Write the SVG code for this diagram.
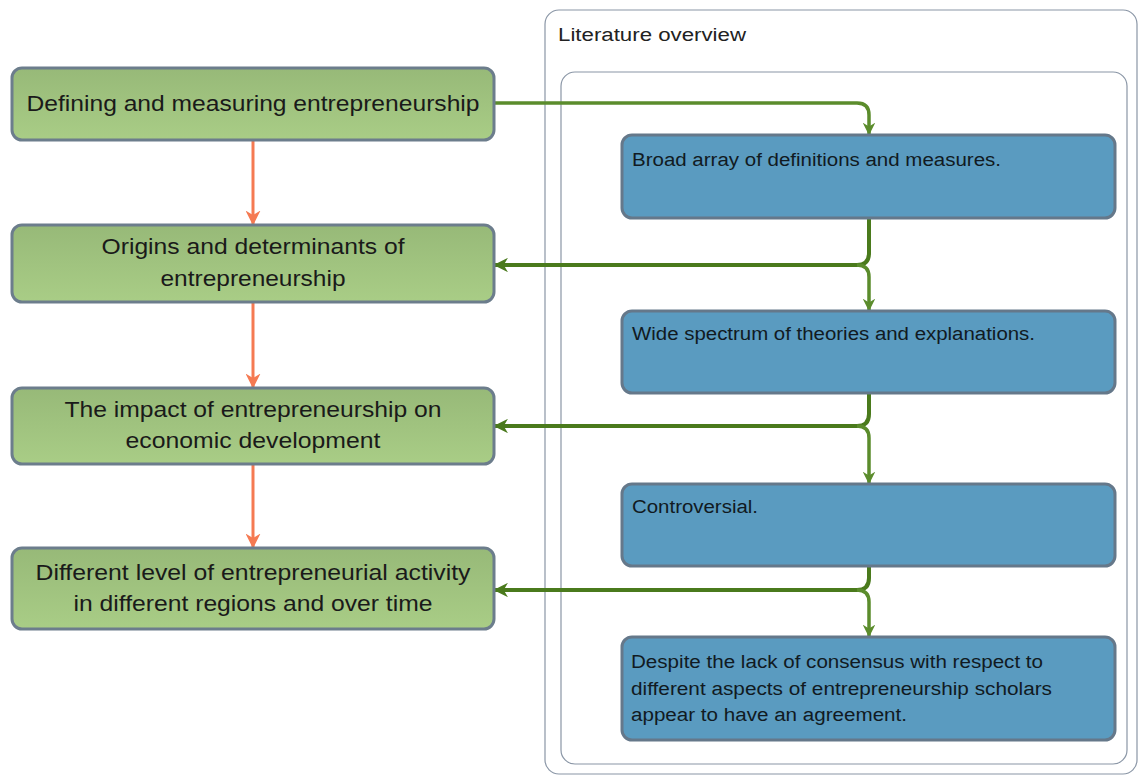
<svg xmlns="http://www.w3.org/2000/svg" width="1139" height="776" viewBox="0 0 1139 776">
  <defs>
    <linearGradient id="gFill" x1="0" y1="0" x2="0" y2="1">
      <stop offset="0" stop-color="#97b978"/>
      <stop offset="1" stop-color="#a9cd86"/>
    </linearGradient>
    <marker id="arrG" viewBox="0 0 10 10" refX="9" refY="5" markerWidth="3.6" markerHeight="3.6" orient="auto" markerUnits="strokeWidth">
      <path d="M0,0 L10,5 L0,10 L3,5 z" fill="#5b8c2c"/>
    </marker>
    <marker id="arrGd" viewBox="0 0 10 10" refX="9" refY="5" markerWidth="3.6" markerHeight="3.6" orient="auto" markerUnits="strokeWidth">
      <path d="M0,0 L10,5 L0,10 L3,5 z" fill="#4a7a1c"/>
    </marker>
    <marker id="arrO" viewBox="0 0 10 10" refX="9" refY="5" markerWidth="5" markerHeight="5" orient="auto" markerUnits="strokeWidth">
      <path d="M0,0 L10,5 L0,10 L3,5 z" fill="#f57a52"/>
    </marker>
  </defs>
  <style>
    .frame { fill: #ffffff; stroke: #8a96a6; stroke-width: 1.2; }
    .green { fill: url(#gFill); stroke: #6c7d8c; stroke-width: 3; }
    .blue { fill: #5a9bc0; stroke: #65788a; stroke-width: 3; }
    .gt { font-family: "Liberation Sans", Arial, sans-serif; font-size: 22px; fill: #1a1a1a; text-anchor: middle; }
    .bt { font-family: "Liberation Sans", Arial, sans-serif; font-size: 18px; fill: #111a22; }
    .title { font-family: "Liberation Sans", Arial, sans-serif; font-size: 18px; fill: #222222; }
    .cg { fill: none; stroke: #5b8c2c; stroke-width: 3.5; }
    .cgd { fill: none; stroke: #4a7a1c; stroke-width: 4; }
    .co { fill: none; stroke: #f57a52; stroke-width: 3; }
  </style>

  <rect width="1139" height="776" fill="#ffffff"/>

  <!-- container frames -->
  <g id="literature-overview">
    <rect class="frame" x="545" y="10" width="592" height="764" rx="14"/>
    <text class="title" x="558" y="41" textLength="188" lengthAdjust="spacingAndGlyphs">Literature overview</text>
    <rect class="frame" x="561" y="72" width="566" height="692" rx="14"/>
  </g>

  <!-- connectors -->
  <g id="connectors">
    <!-- orange: left column flow -->
    <path class="co" d="M253,141 V224" marker-end="url(#arrO)"/>
    <path class="co" d="M253,303 V387" marker-end="url(#arrO)"/>
    <path class="co" d="M253,465 V547" marker-end="url(#arrO)"/>

    <!-- green: into the first blue step -->
    <path class="cg" d="M495,103 H857 Q869,103 869,115 V134" marker-end="url(#arrG)"/>

    <!-- branches after each blue step -->
    <path class="cgd" d="M869,219 V253 Q869,265 857,265 H495" marker-end="url(#arrGd)"/>
    <path class="cg" d="M857,265 Q869,265 869,277 V310" marker-end="url(#arrG)"/>

    <path class="cgd" d="M869,394 V414 Q869,426 857,426 H495" marker-end="url(#arrGd)"/>
    <path class="cg" d="M857,426 Q869,426 869,438 V483" marker-end="url(#arrG)"/>

    <path class="cgd" d="M869,567 V578 Q869,590 857,590 H495" marker-end="url(#arrGd)"/>
    <path class="cg" d="M857,590 Q869,590 869,602 V636" marker-end="url(#arrG)"/>
  </g>

  <!-- left column -->
  <g id="defining">
    <rect class="green" x="12" y="68" width="482" height="72" rx="10"/>
    <text class="gt" x="253" y="111" textLength="453" lengthAdjust="spacingAndGlyphs">Defining and measuring entrepreneurship</text>
  </g>
  <g id="origins">
    <rect class="green" x="12" y="225" width="482" height="77" rx="10"/>
    <text class="gt" x="253" y="254" textLength="303" lengthAdjust="spacingAndGlyphs">Origins and determinants of</text>
    <text class="gt" x="253" y="286" textLength="185" lengthAdjust="spacingAndGlyphs">entrepreneurship</text>
  </g>
  <g id="impact">
    <rect class="green" x="12" y="388" width="482" height="76" rx="10"/>
    <text class="gt" x="253" y="417" textLength="377" lengthAdjust="spacingAndGlyphs">The impact of entrepreneurship on</text>
    <text class="gt" x="253" y="448" textLength="255" lengthAdjust="spacingAndGlyphs">economic development</text>
  </g>
  <g id="regions">
    <rect class="green" x="12" y="548" width="482" height="81" rx="10"/>
    <text class="gt" x="253" y="580" textLength="435" lengthAdjust="spacingAndGlyphs">Different level of entrepreneurial activity</text>
    <text class="gt" x="253" y="611" textLength="359" lengthAdjust="spacingAndGlyphs">in different regions and over time</text>
  </g>

  <!-- right column -->
  <g id="broad-array">
    <rect class="blue" x="622" y="135" width="493" height="83" rx="10"/>
    <text class="bt" x="632" y="166" textLength="369" lengthAdjust="spacingAndGlyphs">Broad array of definitions and measures.</text>
  </g>
  <g id="wide-spectrum">
    <rect class="blue" x="622" y="311" width="493" height="82" rx="10"/>
    <text class="bt" x="632" y="340" textLength="403" lengthAdjust="spacingAndGlyphs">Wide spectrum of theories and explanations.</text>
  </g>
  <g id="controversial">
    <rect class="blue" x="622" y="484" width="493" height="82" rx="10"/>
    <text class="bt" x="632" y="513" textLength="126" lengthAdjust="spacingAndGlyphs">Controversial.</text>
  </g>
  <g id="agreement">
    <rect class="blue" x="622" y="637" width="493" height="103" rx="10"/>
    <text class="bt" x="631" y="668" textLength="412" lengthAdjust="spacingAndGlyphs">Despite the lack of consensus with respect to</text>
    <text class="bt" x="631" y="695" textLength="421" lengthAdjust="spacingAndGlyphs">different aspects of entrepreneurship scholars</text>
    <text class="bt" x="631" y="721" textLength="276" lengthAdjust="spacingAndGlyphs">appear to have an agreement.</text>
  </g>
</svg>
